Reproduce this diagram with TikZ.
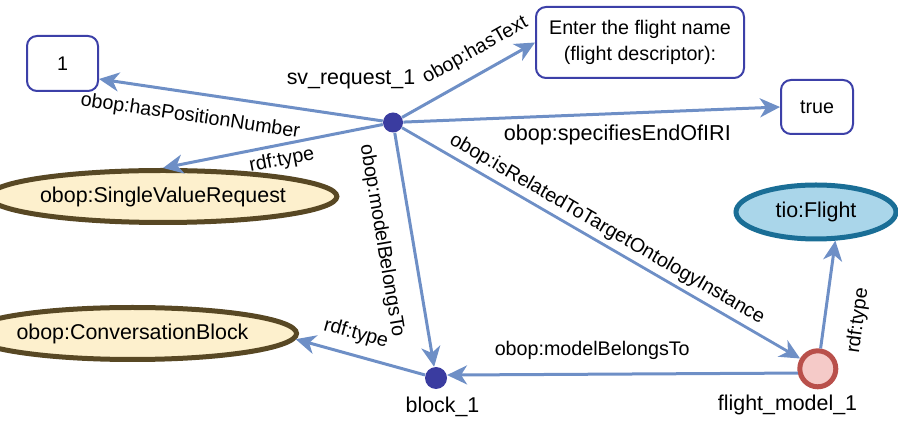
\documentclass[tikz,border=0pt]{standalone}
\usepackage{fontspec}
\setmainfont{Liberation Sans}
\usetikzlibrary{arrows.meta,shapes.geometric}
\definecolor{edgec}{RGB}{110,143,198}
\definecolor{dotc}{RGB}{58,60,160}
\definecolor{boxc}{RGB}{60,64,168}
\definecolor{brownc}{RGB}{88,72,36}
\definecolor{creamc}{RGB}{253,240,205}
\definecolor{tioc}{RGB}{26,110,150}
\definecolor{tiofill}{RGB}{170,214,234}
\definecolor{fmc}{RGB}{185,80,75}
\definecolor{fmfill}{RGB}{245,202,200}
\begin{document}
\begin{tikzpicture}[x=0.5pt,y=-0.5pt,
  edge/.style={draw=edgec, line width=1.5pt, -{Stealth[length=10pt,width=9.5pt,inset=3pt]}},
  elab/.style={font=\fontsize{9.85}{11}\selectfont, inner sep=0pt, text=black},
  nlab/.style={font=\fontsize{10.7}{12}\selectfont, inner sep=0pt, text=black},
  valbox/.style={draw=boxc, line width=1pt, rounded corners=5pt, fill=white, align=center,
    font=\fontsize{9.85}{12.8}\selectfont, inner sep=2pt},
  classell/.style={ellipse, draw=brownc, fill=creamc, line width=2.5pt, inner sep=0pt,
    font=\fontsize{10.7}{12}\selectfont},
  tioell/.style={ellipse, draw=tioc, fill=tiofill, line width=2.5pt, inner sep=0pt,
    font=\fontsize{10.7}{12}\selectfont},
  bdot/.style={circle, fill=dotc, inner sep=0pt, minimum size=10.5pt},
  fmnode/.style={circle, draw=fmc, fill=fmfill, line width=2.5pt, inner sep=0pt, minimum size=18pt}
]
\useasboundingbox (0,0) rectangle (898,421);

% nodes
\node[valbox, minimum width=35.5pt, minimum height=27.5pt] (one) at (62.5,63.5) {1};
\node[valbox, minimum width=104pt, minimum height=35.5pt] (enter) at (640,42.5) {Enter the flight name\\(flight descriptor):};
\node[valbox, minimum width=36pt, minimum height=27pt] (true) at (817,107) {true};
\node[classell, minimum width=136.5pt, minimum height=26pt] (svr) at (163,196.5) {obop:SingleValueRequest};
\node[classell, minimum width=125pt, minimum height=26pt] (cb) at (132.5,333.5) {obop:ConversationBlock};
\node[tioell, minimum width=80pt, minimum height=27pt] (tio) at (816,212) {tio:Flight};
\node[bdot, minimum size=10pt] (sv) at (393,122.5) {};
\node[bdot, minimum size=11pt] (blk) at (436,378) {};
\node[fmnode] (fm) at (817.8,368.8) {};

% node names
\node[nlab] (svl) at (351,79) {sv\_request\_1};
\node[nlab] (blkl) at (442.5,406.5) {block\_1};
\node[nlab] (fml) at (787.5,404.5) {flight\_model\_1};

% edges
\draw[edge] (sv) -- (one.-23)
  node[elab, sloped, pos=0.666, below=6.6pt] (l1) {obop:hasPositionNumber};
\draw[edge] (sv) -- (svr.north)
  node[elab, sloped, pos=0.473, below=2.5pt] (l2) {rdf:type};
\draw[edge] (sv) -- (enter.west)
  node[elab, sloped, pos=0.633, above=5.8pt] (l3) {obop:hasText};
\draw[edge] (sv) -- (true.west)
  node[elab, font=\fontsize{10.8}{12}\selectfont, pos=0.568, below=4.75pt] (l4) {obop:specifiesEndOfIRI};
\draw[edge, line width=1.4pt] (sv) -- (fm)
  node[elab, sloped, pos=0.496, above=2.2pt] (l5) {obop:isRelatedToTargetOntologyInstance};
\draw[edge] (sv) -- (blk)
  node[elab, sloped, pos=0.44, below=10pt] (l6) {obop:modelBelongsTo};
\draw[edge] (blk) -- (cb.-2)
  node[elab, sloped, pos=0.577, above=5.2pt] (l7) {rdf:type};
\draw[edge] (fm.-168) -- (blk.15)
  node[elab, pos=0.586, above=6.7pt] (l8) {obop:modelBelongsTo};
\draw[edge] (fm) -- (tio.-56)
  node[elab, sloped, pos=0.3, below=11.4pt] (l9) {rdf:type};
\end{tikzpicture}
\end{document}
